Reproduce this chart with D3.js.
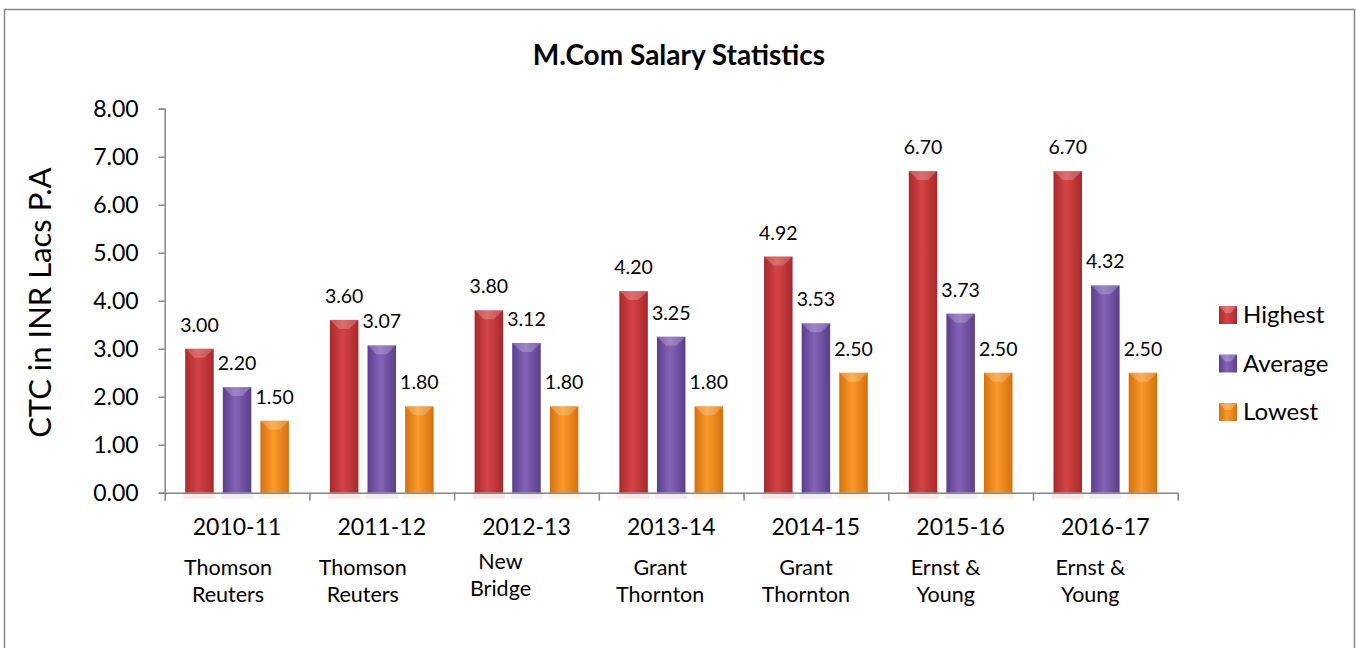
<!DOCTYPE html>
<html>
<head>
<meta charset="utf-8">
<script src="https://cdn.jsdelivr.net/npm/d3@7"></script>
<style>
  html, body { margin: 0; padding: 0; background: #fff; }
  #chart { width: 1356px; height: 648px; }
  text { font-family: Lato, "Open Sans", sans-serif; fill: #000; }
</style>
</head>
<body>
<div id="chart"></div>
<script>
//Datos
const years = ['2010-11', '2011-12', '2012-13', '2013-14', '2014-15', '2015-16', '2016-17'];
const companies = [
    ['Thomson', 'Reuters'],
    ['Thomson', 'Reuters'],
    ['New', 'Bridge'],
    ['Grant', 'Thornton'],
    ['Grant', 'Thornton'],
    ['Ernst &', 'Young'],
    ['Ernst &', 'Young']
];
const seriesNames = ['Highest', 'Average', 'Lowest'];
const highest = [3.00, 3.60, 3.80, 4.20, 4.92, 6.70, 6.70];
const average = [2.20, 3.07, 3.12, 3.25, 3.53, 3.73, 4.32];
const lowest = [1.50, 1.80, 1.80, 1.80, 2.50, 2.50, 2.50];
const yTicks = [0, 1, 2, 3, 4, 5, 6, 7, 8];

//Colores (borde oscuro, centro claro)
const COLORS = {
    Highest: ['#a8292b', '#d44446'],
    Average: ['#5a3f8c', '#8363b6'],
    Lowest: ['#d4710f', '#fa9a2a']
};

//Ajuste manual de las etiquetas de empresa respecto al centro de la categoría
const companyShift = [-9, -19, -26, -11, -10, -15, -15];
const companyLift = [0, 0, -6, 0, 0, 0, 0];

const data = years.map(function(y, i) {
    return { year: y, Highest: highest[i], Average: average[i], Lowest: lowest[i] };
});

let margin = {top: 108.7, left: 164.7, right: 178.3, bottom: 155.3},
    width = 1356 - margin.left - margin.right,
    height = 648 - margin.top - margin.bottom;

let svg = d3.select('#chart')
    .append('svg')
    .attr('width', 1356)
    .attr('height', 648);

let defs = svg.append('defs');
seriesNames.forEach(function(s) {
    let g = defs.append('linearGradient')
        .attr('id', 'grad-' + s)
        .attr('x1', '0%').attr('x2', '100%').attr('y1', '0%').attr('y2', '0%');
    g.append('stop').attr('offset', '0%').attr('stop-color', COLORS[s][0]);
    g.append('stop').attr('offset', '45%').attr('stop-color', COLORS[s][1]);
    g.append('stop').attr('offset', '100%').attr('stop-color', COLORS[s][0]);
});

//Marco del gráfico
svg.append('rect')
    .attr('x', 4.5).attr('y', 9.5)
    .attr('width', 1350).attr('height', 660)
    .attr('fill', 'none')
    .attr('stroke', '#868686')
    .attr('stroke-width', 1.5);

//Título
svg.append('text')
    .attr('x', 679).attr('y', 65)
    .attr('text-anchor', 'middle')
    .style('font-size', '28px')
    .style('font-weight', 'bold')
    .text('M.Com Salary Statistics');

let chart = svg.append('g')
    .attr('transform', 'translate(' + margin.left + ',' + margin.top + ')');

let x0 = d3.scaleBand()
    .domain(years)
    .range([0, width]);

let x1 = d3.scaleBand()
    .domain(seriesNames)
    .range([0, x0.bandwidth()])
    .paddingInner(0.242)
    .paddingOuter(0.545);

let y = d3.scaleLinear()
    .domain([0, 8])
    .range([height, 0]);

//Eje Y
let yAxis = chart.append('g')
    .call(d3.axisLeft(y).tickValues(yTicks).tickSize(6).tickPadding(20).tickFormat(d3.format('.2f')));
yAxis.select('.domain').attr('stroke', '#868686').attr('stroke-width', 1.5);
yAxis.selectAll('.tick line').attr('stroke', '#868686').attr('stroke-width', 1.5);
yAxis.selectAll('.tick text').style('font-size', '23px').style('font-family', 'Lato, sans-serif').attr('fill', '#000');

//Barras
let groups = chart.append('g')
    .selectAll('g')
    .data(data)
    .enter()
    .append('g')
    .attr('transform', function(d) { return 'translate(' + x0(d.year) + ',0)'; });

let bars = groups.selectAll('g.bar')
    .data(function(d) { return seriesNames.map(function(s) { return { key: s, value: d[s] }; }); })
    .enter()
    .append('g')
    .attr('class', 'bar');

//Sombra suave bajo la barra
bars.append('rect')
    .attr('x', function(d) { return x1(d.key) - 2; })
    .attr('y', height - 2)
    .attr('width', x1.bandwidth() + 4)
    .attr('height', 8)
    .attr('fill', function(d) { return COLORS[d.key][1]; })
    .attr('opacity', 0.12);

bars.append('rect')
    .attr('x', function(d) { return x1(d.key); })
    .attr('y', function(d) { return y(d.value); })
    .attr('width', x1.bandwidth())
    .attr('height', function(d) { return height - y(d.value); })
    .attr('fill', function(d) { return 'url(#grad-' + d.key + ')'; });

//Bisel superior
bars.append('path')
    .attr('d', function(d) {
        let bx = x1(d.key), by = y(d.value), w = x1.bandwidth();
        return 'M' + bx + ',' + by + 'L' + (bx + w) + ',' + by +
            'L' + (bx + w / 2 + 5) + ',' + (by + 9) + 'L' + (bx + w / 2 - 5) + ',' + (by + 9) + 'Z';
    })
    .attr('fill', '#fff')
    .attr('opacity', 0.22);

//Etiquetas de datos
bars.append('text')
    .attr('x', function(d) { return x1(d.key) + x1.bandwidth() / 2; })
    .attr('y', function(d) { return y(d.value) - 17; })
    .attr('text-anchor', 'middle')
    .style('font-size', '19.5px')
    .text(function(d) { return d3.format('.2f')(d.value); });

//Eje X (marcas entre categorías)
let xb = d3.scaleLinear().domain([0, years.length]).range([0, width]);
let xAxis = chart.append('g')
    .attr('transform', 'translate(0,' + height + ')')
    .call(d3.axisBottom(xb).ticks(years.length).tickSize(8).tickSizeOuter(0).tickFormat(''));
xAxis.select('.domain').attr('stroke', '#868686').attr('stroke-width', 1.5);
xAxis.selectAll('.tick line').attr('stroke', '#868686').attr('stroke-width', 1.5);

//Etiquetas de categoría
chart.append('g')
    .selectAll('text')
    .data(years)
    .enter()
    .append('text')
    .attr('x', function(d) { return x0(d) + x0.bandwidth() / 2; })
    .attr('y', height + 42)
    .attr('text-anchor', 'middle')
    .style('font-size', '23px')
    .text(function(d) { return d; });

//Empresas
let comp = chart.append('g')
    .selectAll('text')
    .data(companies)
    .enter()
    .append('text')
    .attr('text-anchor', 'middle')
    .style('font-size', '21.5px');

comp.each(function(lines, i) {
    let cx = x0(years[i]) + x0.bandwidth() / 2 + companyShift[i];
    let t = d3.select(this);
    lines.forEach(function(line, j) {
        t.append('tspan')
            .attr('x', cx)
            .attr('y', height + 82 + companyLift[i] + j * 27)
            .text(line);
    });
});

//Título eje Y
svg.append('text')
    .attr('transform', 'translate(51,' + (margin.top + height / 2 + 2) + ') rotate(-90)')
    .attr('text-anchor', 'middle')
    .style('font-size', '31px')
    .text('CTC in INR Lacs P.A');

//Leyenda
let legend = svg.append('g')
    .selectAll('g')
    .data(seriesNames)
    .enter()
    .append('g')
    .attr('transform', function(d, i) { return 'translate(1219,' + (306 + i * 48.5) + ')'; });

legend.append('rect')
    .attr('width', 18).attr('height', 18)
    .attr('fill', function(d) { return 'url(#grad-' + d + ')'; });

legend.append('path')
    .attr('d', 'M0,0L18,0L12,7L6,7Z')
    .attr('fill', '#fff')
    .attr('opacity', 0.25);

legend.append('text')
    .attr('x', 24)
    .attr('y', 17)
    .style('font-size', '24px')
    .text(function(d) { return d; });
</script>
</body>
</html>
